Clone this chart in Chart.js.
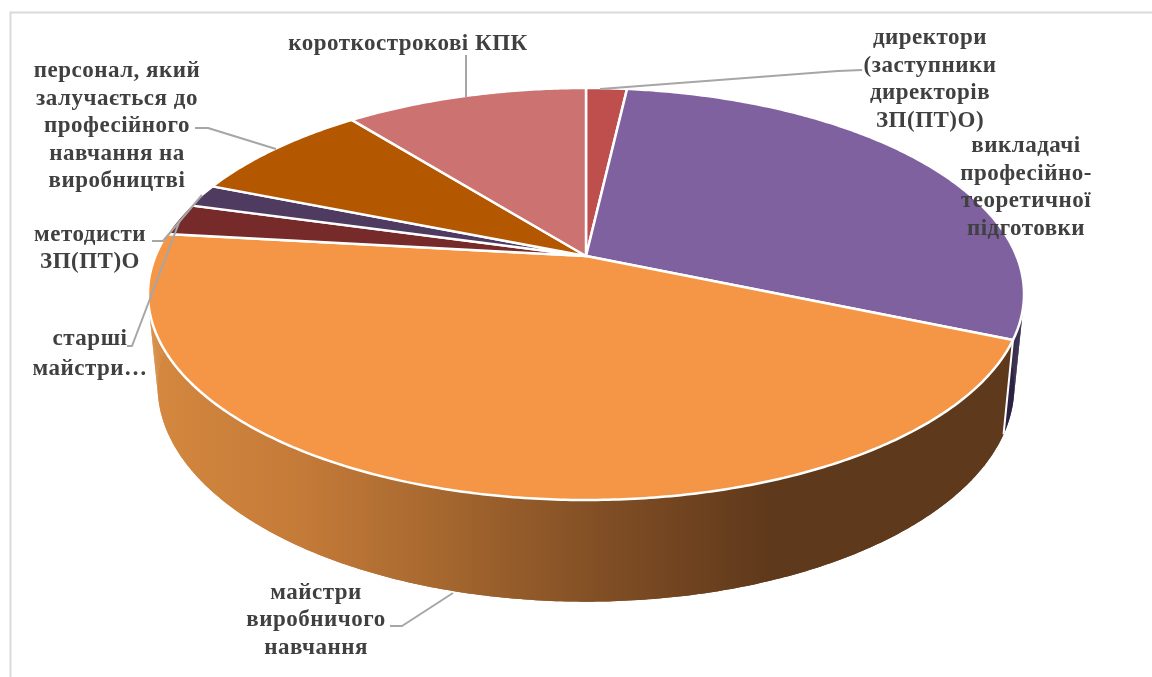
<!DOCTYPE html>
<html><head><meta charset="utf-8">
<style>html,body{margin:0;padding:0;background:#fff}canvas{display:block}</style>
<script src="https://cdn.jsdelivr.net/npm/chart.js@4"></script>
</head><body>
<div style="width:1152px;height:677px"><canvas id="c" width="1152" height="677"></canvas></div>
<script>
const categories = ['директори (заступники директорів ЗП(ПТ)О)','викладачі професійно-теоретичної підготовки','майстри виробничого навчання','старші майстри…','методисти ЗП(ПТ)О','персонал, який залучається до професійного навчання на виробництві','короткострокові КПК'];
const shares = [1.8, 29.6, 45.4, 2.5, 1.8, 8.2, 10.7];
const topColors = ['#BE4F4C','#7F619F','#F49646','#772A2A','#4F3A60','#B35700','#CC7270'];
const wallColors = ['#6E2C2A','#2E2444',null,'#4a1a1a','#2e2238','#6a3300','#7a4442'];
const labelLines = [
  ['директори','(заступники','директорів','ЗП(ПТ)О)'],
  ['викладачі','професійно-','теоретичної','підготовки'],
  ['майстри','виробничого','навчання'],
  ['старші','майстри…'],
  ['методисти','ЗП(ПТ)О'],
  ['персонал, який','залучається до','професійного','навчання на','виробництві'],
  ['короткострокові КПК']
];
const labelCX = [930,1026,316,90,90,117,408];
const labelY  = [38,146,593,339,235,71,44];
const labelStep = [27.7,27.7,27.5,30,27,27.6,0];
const leaders = [
  [[600,89],[838,71],[862,70]],
  [],
  [[453,593],[402,626],[390,626]],
  [[180,220],[132,346],[127,346]],
  [[202,195],[163,241],[152,241]],
  [[276,149],[208,128],[195,128]],
  [[466,97],[466,55]]
];
const APEX = {x:586,y:256};
const TOP = {a:199,d:430.5,h:0};
const BOT = {a:208,d:421,h:90.6};
const C = -0.1845;
function proj(ang,L){
  const x=Math.cos(ang), y=Math.sin(ang), w=1+C*y;
  return {x:APEX.x+L.d*x/w, y:APEX.y+L.h+L.a*y/w};
}
Chart.ArcElement.prototype.draw = function(ctx){
  const o=this.options, s=this.startAngle, e=this.endAngle;
  ctx.save();
  ctx.beginPath();
  ctx.moveTo(APEX.x,APEX.y);
  const n=Math.max(4,Math.ceil((e-s)/0.01));
  for(let i=0;i<=n;i++){const p=proj(s+(e-s)*i/n,TOP);ctx.lineTo(p.x,p.y);}
  ctx.closePath();
  ctx.fillStyle=o.backgroundColor; ctx.fill();
  ctx.lineJoin='round';
  ctx.strokeStyle='#fff'; ctx.lineWidth=2.5; ctx.stroke();
  ctx.restore();
};
const tilt = {
  id:'tilt',
  beforeDraw(ch){
    const c=ch.ctx; c.save();
    c.fillStyle='#fff'; c.fillRect(0,0,1152,677);
    c.strokeStyle='#d9d9d9'; c.lineWidth=2;
    c.beginPath(); c.moveTo(10.5,677); c.lineTo(10.5,12.5); c.lineTo(1152,12.5); c.stroke();
    c.restore();
  },
  beforeDatasetsDraw(ch){
    const c=ch.ctx, arcs=ch.getDatasetMeta(0).data;
    const g=c.createLinearGradient(150,0,1010,0);
    g.addColorStop(0,'#D4883F'); g.addColorStop(0.18,'#C47A38'); g.addColorStop(0.35,'#A3662E');
    g.addColorStop(0.52,'#824F25'); g.addColorStop(0.72,'#5F391B'); g.addColorStop(1,'#5F391B');
    c.save();
    [6,5,4,3,0,1,2].forEach(i=>{
      const a=arcs[i], s=a.startAngle, e=a.endAngle, n=Math.max(4,Math.ceil((e-s)/0.01));
      c.beginPath();
      for(let k=0;k<=n;k++){const p=proj(s+(e-s)*k/n,TOP); k?c.lineTo(p.x,p.y):c.moveTo(p.x,p.y);}
      for(let k=n;k>=0;k--){const p=proj(s+(e-s)*k/n,BOT); c.lineTo(p.x,p.y);}
      c.closePath();
      c.fillStyle=wallColors[i]||g; c.fill();
      for(let k=0;k<n;k++){
        const p=proj(s+(e-s)*k/n,TOP),q=proj(s+(e-s)*(k+1)/n,TOP),r=proj(s+(e-s)*(k+1)/n,BOT),t=proj(s+(e-s)*k/n,BOT);
        c.beginPath();c.moveTo(p.x,p.y);c.lineTo(q.x,q.y);c.lineTo(r.x,r.y);c.lineTo(t.x,t.y);c.closePath();c.fill();
      }
    });
    const a=arcs[2], p=proj(a.startAngle,TOP), q=proj(a.startAngle,BOT);
    c.strokeStyle='#fff'; c.lineWidth=2; c.beginPath(); c.moveTo(p.x,p.y); c.lineTo(q.x,q.y); c.stroke();
    c.restore();
  },
  afterDatasetsDraw(ch){
    const c=ch.ctx; c.save();
    c.strokeStyle='#A6A6A6'; c.lineWidth=2; c.lineJoin='round';
    leaders.forEach(l=>{ if(!l.length) return; c.beginPath(); l.forEach((p,i)=>i?c.lineTo(p[0],p[1]):c.moveTo(p[0],p[1])); c.stroke(); });
    c.fillStyle='#404040'; c.font='bold 23px "Liberation Serif"'; c.letterSpacing='0.5px'; c.textAlign='center'; c.textBaseline='middle';
    labelLines.forEach((ls,i)=>ls.forEach((t,k)=>c.fillText(t,labelCX[i],labelY[i]+k*labelStep[i])));
    c.restore();
  }
};
new Chart(document.getElementById('c'),{
  type:'pie',
  data:{labels:categories,datasets:[{data:shares,backgroundColor:topColors,borderColor:'#fff',borderWidth:2}]},
  options:{responsive:false,animation:false,devicePixelRatio:1,
    plugins:{legend:{display:false},tooltip:{enabled:false}},
    rotation:0},
  plugins:[tilt]
});
</script>
</body></html>
